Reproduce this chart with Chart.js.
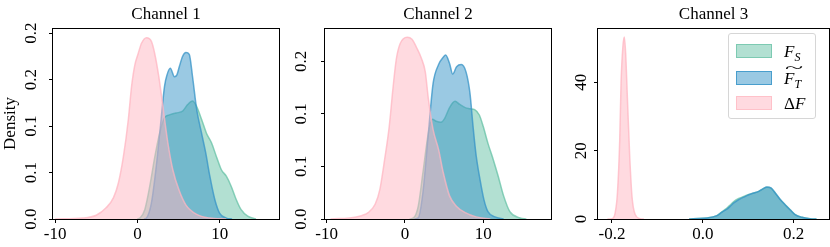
<!DOCTYPE html>
<html>
<head>
<meta charset="utf-8">
<script src="https://cdn.jsdelivr.net/npm/chart.js@4.4.1/dist/chart.umd.min.js"></script>
<style>
html, body { margin: 0; padding: 0; background: #fff; }
#wrap { position: relative; width: 830px; height: 247px; overflow: hidden; font-family: "Liberation Serif", "Times New Roman", serif; }
.panel { position: absolute; top: 0; height: 247px; }
#legend { position: absolute; left: 728px; top: 33px; width: 86px; height: 84px; border: 1px solid #d6d6d6; border-radius: 3px; background: rgba(255,255,255,0.8); }
#legend .patch { position: absolute; left: 7px; width: 34px; height: 12px; }
#legend .lab { position: absolute; left: 55px; font-size: 17px; line-height: 17px; color: #000; white-space: nowrap; }
#legend sub { font-size: 12px; vertical-align: -4px; line-height: 0; }
#legend .tilde { position: absolute; left: 1px; top: -9px; font-size: 14px; font-style: normal; transform: scaleX(2.4); transform-origin: left center; }
</style>
</head>
<body>
<div id="wrap">
  <div class="panel" style="left:0;width:290px"><canvas id="c1" width="290" height="247"></canvas></div>
  <div class="panel" style="left:290px;width:268px"><canvas id="c2" width="268" height="247"></canvas></div>
  <div class="panel" style="left:560px;width:270px"><canvas id="c3" width="270" height="247"></canvas></div>
  <div id="legend">
    <div class="patch" style="top:10px;background:rgba(102,194,165,0.5);border:1px solid rgba(102,194,165,0.7)"></div>
    <div class="lab" style="top:9px"><i>F</i><sub><i>S</i></sub></div>
    <div class="patch" style="top:37px;background:rgba(53,147,199,0.5);border:1px solid rgba(53,147,199,0.8)"></div>
    <div class="lab" style="top:36px"><span style="position:relative"><span class="tilde">~</span><i>F</i><sub><i>T</i></sub></span></div>
    <div class="patch" style="top:62px;background:rgba(255,182,193,0.5);border:1px solid rgba(255,182,193,0.7)"></div>
    <div class="lab" style="top:61px">&Delta;<i>F</i></div>
  </div>
</div>
<script>
// ---- data ----
const seriesNames = ["F_S", "F_T~", "ΔF"];

// Channel 1
const ch1Fs = [[0.0,0],[0.3,0.001],[0.9,0.010],[1.5,0.035],[2.1,0.066],[2.7,0.092],[3.3,0.109],[3.9,0.112],[4.7,0.114],[5.5,0.116],[6.1,0.123],[6.7,0.127],[7.2,0.121],[7.8,0.107],[8.4,0.092],[9.0,0.082],[9.6,0.067],[10.2,0.053],[10.8,0.046],[11.4,0.035],[12.0,0.021],[12.6,0.010],[13.4,0.003],[14.4,0]];
const ch1Ft = [[0.8,0],[1.1,0.001],[1.7,0.017],[2.3,0.057],[2.8,0.100],[3.3,0.143],[3.6,0.155],[4.0,0.162],[4.5,0.153],[4.8,0.155],[5.1,0.164],[5.5,0.175],[5.9,0.179],[6.3,0.177],[6.7,0.153],[7.2,0.118],[7.8,0.092],[8.3,0.071],[8.8,0.046],[9.4,0.021],[10.0,0.006],[10.8,0.001],[11.5,0]];
const ch1Df = [[-10,0],[-6.6,0.001],[-5.0,0.004],[-3.8,0.012],[-2.9,0.023],[-2.3,0.039],[-1.7,0.067],[-1.1,0.107],[-0.7,0.143],[-0.3,0.166],[0.1,0.178],[0.5,0.189],[1.1,0.195],[1.7,0.191],[2.1,0.178],[2.6,0.153],[3.1,0.121],[3.7,0.082],[4.3,0.053],[5.1,0.030],[5.9,0.015],[7.2,0.005],[8.8,0.001],[10.8,0]];
const ch1XTicks = [-10, 0, 10];
const ch1XLabels = ["-10", "0", "10"];
const ch1YTicks = [0, 0.05, 0.10, 0.15, 0.20];
const ch1YLabels = ["0.0", "0.1", "0.1", "0.2", "0.2"];

// Channel 2
const ch2Fs = [[0.6,0],[1.1,0.001],[1.7,0.012],[2.3,0.044],[3.0,0.082],[3.5,0.095],[4.0,0.093],[4.6,0.092],[5.1,0.096],[5.7,0.106],[6.4,0.112],[7.0,0.109],[7.7,0.106],[8.3,0.105],[8.9,0.104],[9.5,0.099],[10.0,0.088],[10.6,0.072],[11.3,0.056],[11.9,0.041],[12.6,0.022],[13.4,0.007],[14.7,0.001],[15.5,0]];
const ch2Ft = [[1.2,0],[1.7,0.001],[2.3,0.025],[3.0,0.082],[3.6,0.129],[4.3,0.147],[4.9,0.154],[5.2,0.156],[5.7,0.148],[6.1,0.138],[6.6,0.145],[7.2,0.147],[7.8,0.140],[8.3,0.120],[8.7,0.088],[9.1,0.060],[9.6,0.037],[10.1,0.018],[10.6,0.007],[11.5,0.002],[12.6,0]];
const ch2Df = [[-9.5,0],[-6.2,0.002],[-4.7,0.006],[-3.8,0.014],[-3.2,0.028],[-2.6,0.056],[-2.0,0.088],[-1.5,0.126],[-1.1,0.152],[-0.6,0.167],[0.3,0.173],[0.9,0.171],[1.5,0.163],[2.1,0.153],[2.6,0.140],[3.0,0.114],[3.6,0.085],[4.3,0.066],[4.9,0.044],[5.7,0.022],[6.6,0.012],[7.7,0.006],[9.1,0.002],[10.9,0]];
const ch2XTicks = [-10, 0, 10];
const ch2XLabels = ["-10", "0", "10"];
const ch2YTicks = [0, 0.05, 0.10, 0.15];
const ch2YLabels = ["0.0", "0.1", "0.1", "0.2"];

// Channel 3
const ch3Fs = [[-0.03,0],[-0.021,0.1],[0.009,0.3],[0.031,1.0],[0.042,2.1],[0.053,3.2],[0.060,4.1],[0.068,5.1],[0.079,6.0],[0.090,6.6],[0.101,7.2],[0.112,7.6],[0.123,8.1],[0.132,8.8],[0.141,9.3],[0.150,9.0],[0.159,7.6],[0.170,5.7],[0.181,4.2],[0.192,2.7],[0.203,1.3],[0.218,0.5],[0.236,0.1],[0.25,0]];
const ch3Ft = [[-0.03,0],[-0.021,0.1],[0.009,0.3],[0.031,1.0],[0.042,2.0],[0.053,2.9],[0.060,3.7],[0.068,4.7],[0.079,5.7],[0.090,6.4],[0.101,7.1],[0.112,7.6],[0.123,8.1],[0.132,8.8],[0.141,9.4],[0.150,9.1],[0.159,7.7],[0.170,5.8],[0.181,4.2],[0.192,2.7],[0.203,1.3],[0.218,0.5],[0.236,0.1],[0.25,0]];
const ch3Df = [[-0.21,0],[-0.200,0.1],[-0.193,1.8],[-0.188,7.6],[-0.183,23],[-0.180,40],[-0.176,50.5],[-0.173,53.3],[-0.170,48.6],[-0.166,35],[-0.161,18.3],[-0.156,6.6],[-0.149,1.3],[-0.138,0.1],[-0.13,0]];
const ch3XTicks = [-0.2, 0.0, 0.2];
const ch3XLabels = ["-0.2", "0.0", "0.2"];
const ch3YTicks = [0, 20, 40];
const ch3YLabels = ["0", "20", "40"];

// ---- style ----
const FONT = "'Liberation Serif', 'Times New Roman', serif";
const COLORS = {
    fs: [102, 194, 165],
    ft: [53, 147, 199],
    df: [255, 182, 193]
};

function rgba(c, a) {
    return `rgba(${c[0]}, ${c[1]}, ${c[2]}, ${a})`;
}

function series(label, points, color, order) {
    return {
        label: label,
        data: points.map(p => ({ x: p[0], y: p[1] })),
        borderColor: rgba(color, 0.75),
        backgroundColor: rgba(color, 0.5),
        borderWidth: 1.5,
        fill: "origin",
        pointRadius: 0,
        cubicInterpolationMode: "monotone",
        order: order
    };
}

// box around the plot area
const framePlugin = {
    id: "frame",
    afterDraw(chart) {
        const { ctx, chartArea: a } = chart;
        ctx.save();
        ctx.strokeStyle = "#000";
        ctx.lineWidth = 1;
        ctx.strokeRect(Math.round(a.left) - 0.5, Math.round(a.top) + 0.5,
            Math.round(a.right - a.left) + 1, Math.round(a.bottom - a.top));
        ctx.restore();
    }
};

// rotated y tick labels, placed at the scale's own tick positions
const yLabelPlugin = {
    id: "yLabels",
    afterDraw(chart, args, opts) {
        const s = chart.scales.y;
        const ctx = chart.ctx;
        ctx.save();
        ctx.fillStyle = "#000";
        ctx.font = `17px ${FONT}`;
        ctx.textAlign = "center";
        ctx.textBaseline = "middle";
        s.ticks.forEach((t, i) => {
            const y = s.getPixelForValue(t.value);
            ctx.save();
            ctx.translate(chart.chartArea.left - opts.gap, y);
            ctx.rotate(-Math.PI / 2);
            ctx.fillText(opts.labels[i], 0, 0);
            ctx.restore();
        });
        ctx.restore();
    }
};

function makePanel(canvasId, p) {
    return new Chart(document.getElementById(canvasId), {
        type: "line",
        data: {
            datasets: [
                series(seriesNames[0], p.fs, COLORS.fs, 3),
                series(seriesNames[1], p.ft, COLORS.ft, 2),
                series(seriesNames[2], p.df, COLORS.df, 1)
            ]
        },
        options: {
            responsive: false,
            animation: false,
            events: [],
            layout: { padding: { left: 0, right: p.padRight, top: 0, bottom: 0 } },
            plugins: {
                legend: { display: false },
                tooltip: { enabled: false },
                title: {
                    display: true,
                    text: p.title,
                    fullSize: false,
                    color: "#000",
                    font: { family: FONT, size: 17, weight: "normal", lineHeight: 1.2 },
                    padding: { top: 4, bottom: 3.6 }
                },
                yLabels: { labels: p.yLabels, gap: p.yGap }
            },
            scales: {
                x: {
                    type: "linear",
                    min: p.xMin,
                    max: p.xMax,
                    afterBuildTicks: s => { s.ticks = p.xTicks.map(v => ({ value: v })); },
                    afterFit: s => { s.height = 28; },
                    ticks: {
                        callback: (v, i) => p.xLabels[i],
                        color: "#000",
                        font: { family: FONT, size: 17 },
                        padding: 1,
                        maxRotation: 0,
                        autoSkip: false
                    },
                    grid: { drawOnChartArea: false, tickLength: 4, color: "#000", lineWidth: 1 },
                    border: { display: false }
                },
                y: {
                    type: "linear",
                    min: 0,
                    max: p.yMax,
                    afterBuildTicks: s => { s.ticks = p.yTicks.map(v => ({ value: v })); },
                    afterFit: s => { s.width = p.yWidth; },
                    ticks: { display: false },
                    grid: { drawOnChartArea: false, tickLength: 4, color: "#000", lineWidth: 1 },
                    border: { display: false },
                    title: {
                        display: !!p.yTitle,
                        text: p.yTitle || "",
                        color: "#000",
                        font: { family: FONT, size: 17 },
                        padding: { top: 0, bottom: 0 }
                    }
                }
            }
        },
        plugins: [framePlugin, yLabelPlugin]
    });
}

makePanel("c1", {
    title: "Channel 1", fs: ch1Fs, ft: ch1Ft, df: ch1Df,
    xMin: -10.25, xMax: 17.2, yMax: 0.2054,
    xTicks: ch1XTicks, xLabels: ch1XLabels, yTicks: ch1YTicks, yLabels: ch1YLabels,
    yWidth: 53, padRight: 11, yGap: 21, yTitle: "Density"
});
makePanel("c2", {
    title: "Channel 2", fs: ch2Fs, ft: ch2Ft, df: ch2Df,
    xMin: -10.2, xMax: 18.65, yMax: 0.1818,
    xTicks: ch2XTicks, xLabels: ch2XLabels, yTicks: ch2YTicks, yLabels: ch2YLabels,
    yWidth: 35, padRight: 7, yGap: 23
});
makePanel("c3", {
    title: "Channel 3", fs: ch3Fs, ft: ch3Ft, df: ch3Df,
    xMin: -0.2308, xMax: 0.2776, yMax: 55.9,
    xTicks: ch3XTicks, xLabels: ch3XLabels, yTicks: ch3YTicks, yLabels: ch3YLabels,
    yWidth: 38, padRight: 1, yGap: 16
});
</script>
</body>
</html>
